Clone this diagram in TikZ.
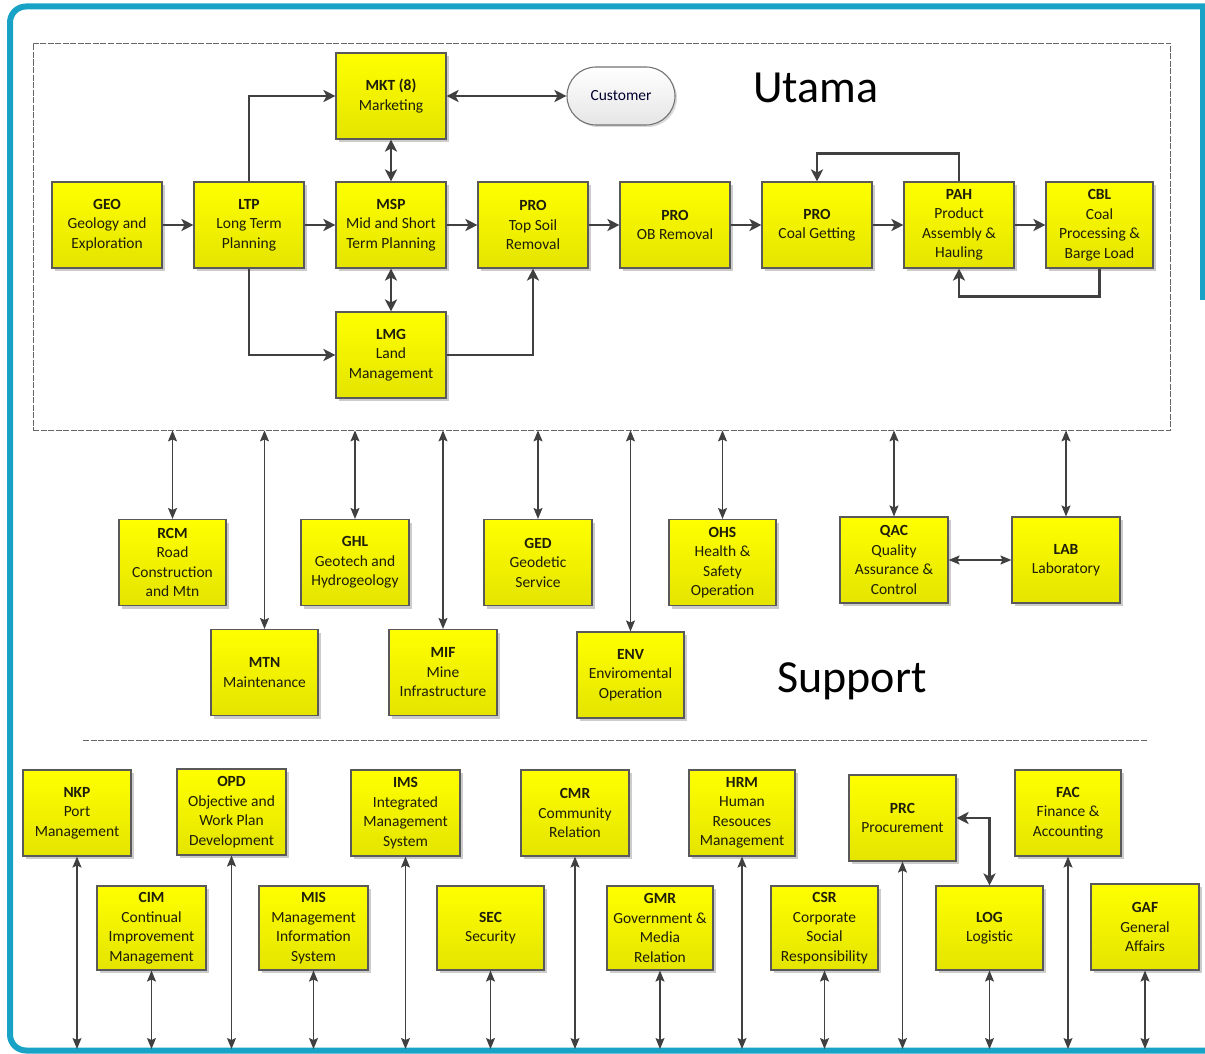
\documentclass[tikz,border=0pt]{standalone}
\usepackage{fontspec}
\setmainfont{Carlito}
\usetikzlibrary{arrows.meta,shadows,calc}
\definecolor{teal1}{RGB}{23,162,198}
\definecolor{arrcol}{RGB}{64,64,64}
\definecolor{ybot}{RGB}{228,228,0}
\definecolor{txt}{RGB}{30,30,10}
\tikzset{
  bx/.style={draw=black!65, line width=1.1pt, top color=yellow, bottom color=ybot,
    drop shadow={shadow xshift=3pt, shadow yshift=-3pt, fill=black!20, opacity=1},
    align=center, font=\fontsize{15.5}{19.5}\selectfont, inner sep=0pt,
    minimum width=108, minimum height=86, text=txt},
  arr/.style={draw=arrcol, line width=2.2pt, -{Stealth[length=12pt,width=12pt,inset=3pt]}},
  arrd/.style={draw=arrcol, line width=2.2pt, {Stealth[length=12pt,width=12pt,inset=3pt]}-{Stealth[length=12pt,width=12pt,inset=3pt]}},
  arrs/.style={draw=arrcol, line width=1.2pt, {Stealth[length=11pt,width=9pt,inset=2pt]}-{Stealth[length=11pt,width=9pt,inset=2pt]}},
  sep/.style={draw=black!60, line width=0.8pt, dash pattern=on 6pt off 1.5pt},
}
\begin{document}
\begin{tikzpicture}[x=1pt,y=-1pt]
\useasboundingbox (0,0) rectangle (1205,1054);
% frame
\draw[teal1, line width=6pt] (1203,300) -- (1203,6.5);
\draw[teal1, line width=6pt, rounded corners=16pt] (1205,6.5) -- (10,6.5) -- (10,1050.5) -- (1210,1050.5);
% Utama dashed box
\node[sep, minimum width=1137, minimum height=387, inner sep=0pt] (ubox) at (601.5,236.5) {};
\draw[sep] (83,740) -- (1148,740);
\coordinate (bot) at (0,1049);

\node[font=\fontsize{46}{50}\selectfont, anchor=base west, inner sep=0pt] (utama) at (753,103) {Utama};
\node[font=\fontsize{46}{50}\selectfont, anchor=base west, inner sep=0pt] (support) at (777,692) {Support};

% Utama nodes
\node[bx, minimum width=110] (geo) at (107,225) {\textbf{GEO}\\Geology and\\Exploration};
\node[bx, minimum width=110] (ltp) at (249,225) {\textbf{LTP}\\Long Term\\Planning};
\node[bx, minimum width=110] (msp) at (391,225) {\textbf{MSP}\\Mid and Short\\Term Planning};
\node[bx, minimum width=110] (pro1) at (533,225) {\textbf{PRO}\\Top Soil\\Removal};
\node[bx, minimum width=110] (pro2) at (675,225) {\textbf{PRO}\\OB Removal};
\node[bx, minimum width=110] (pro3) at (817,225) {\textbf{PRO}\\Coal Getting};
\node[bx, minimum width=110] (pah) at (959,225) {\textbf{PAH}\\Product\\Assembly \&\\Hauling};
\node[bx, minimum width=107] (cbl) at (1099.5,225) {\textbf{CBL}\\Coal\\Processing \&\\Barge Load};
\node[bx, minimum width=110] (mkt) at (391,96) {\textbf{MKT (8)}\\Marketing};
\node[bx, minimum width=110] (lmg) at (391,355) {\textbf{LMG}\\Land\\Management};
\node[draw=black!55, line width=1.1pt, rounded corners=29pt, top color=white, bottom color=black!10,
  drop shadow={shadow xshift=2pt, shadow yshift=-2pt, fill=black!15, opacity=1},
  minimum width=108, minimum height=58, inner sep=0pt, text=black!75!blue!70!black,
  font=\fontsize{15.5}{19.5}\selectfont] (cust) at (621,96) {Customer};

\draw[arr] (geo) -- (ltp);
\draw[arr] (ltp) -- (msp);
\draw[arr] (msp) -- (pro1);
\draw[arr] (pro1) -- (pro2);
\draw[arr] (pro2) -- (pro3);
\draw[arr] (pro3) -- (pah);
\draw[arr] (pah) -- (cbl);
\draw[arr] (ltp.north) |- (mkt.west);
\draw[arr] (ltp.south) |- (lmg.west);
\draw[arr] (lmg.east) -| (pro1.south);
\draw[arrd] (msp) -- (mkt);
\draw[arrd] (msp) -- (lmg);
\draw[arrd] (mkt) -- (cust);
\draw[arr] (pah.north) -- ++(0,-28) -| (pro3.north);
\draw[arr] (cbl.south) -- ++(0,28) -| (pah.south);

% Support row nodes
\node[bx, minimum width=107] (rcm) at (172.5,562.5) {\textbf{RCM}\\Road\\Construction\\and Mtn};
\node[bx] (ghl) at (355,562.5) {\textbf{GHL}\\Geotech and\\Hydrogeology};
\node[bx] (ged) at (538,562.5) {\textbf{GED}\\Geodetic\\Service};
\node[bx, minimum width=107] (ohs) at (722.5,562.5) {\textbf{OHS}\\Health \&\\Safety\\Operation};
\node[bx] (qac) at (894,560) {\textbf{QAC}\\Quality\\Assurance \&\\Control};
\node[bx] (lab) at (1066,560) {\textbf{LAB}\\Laboratory};
\node[bx, minimum width=107] (mtn) at (264.5,672.5) {\textbf{MTN}\\Maintenance};
\node[bx] (mif) at (443,672.5) {\textbf{MIF}\\Mine\\Infrastructure};
\node[bx, minimum width=107] (env) at (630.5,675) {\textbf{ENV}\\Enviromental\\Operation};

\foreach \n in {rcm,ghl,ged,ohs,qac,lab,mtn,mif,env}
  \draw[arrs] (\n.north |- ubox.south) -- (\n.north);
\draw[arrs] (qac) -- (lab);

% Bottom nodes
\node[bx] (nkp) at (77,813) {\textbf{NKP}\\Port\\Management};
\node[bx, minimum width=109] (opd) at (231.5,812) {\textbf{OPD}\\Objective and\\Work Plan\\Development};
\node[bx, minimum width=109] (ims) at (405.5,813) {\textbf{IMS}\\Integrated\\Management\\System};
\node[bx] (cmr) at (575,813) {\textbf{CMR}\\Community\\Relation};
\node[bx, minimum width=106] (hrm) at (742,813) {\textbf{HRM}\\Human\\Resouces\\Management};
\node[bx, minimum width=107] (prc) at (902.5,818) {\textbf{PRC}\\Procurement};
\node[bx, minimum width=106] (fac) at (1068,813) {\textbf{FAC}\\Finance \&\\Accounting};
\node[bx, minimum width=109, minimum height=84] (cim) at (151.5,928) {\textbf{CIM}\\Continual\\Improvement\\Management};
\node[bx, minimum width=109, minimum height=84] (mis) at (313.5,928) {\textbf{MIS}\\Management\\Information\\System};
\node[bx, minimum width=107, minimum height=84] (sec) at (490.5,928) {\textbf{SEC}\\Security};
\node[bx, minimum width=106, minimum height=84] (gmr) at (660,928) {\textbf{GMR}\\Government \&\\Media\\Relation};
\node[bx, minimum width=107, minimum height=84] (csr) at (824.5,928) {\textbf{CSR}\\Corporate\\Social\\Responsibility};
\node[bx, minimum width=107, minimum height=84] (log) at (989.5,928) {\textbf{LOG}\\Logistic};
\node[bx, minimum width=108] (gaf) at (1145,927) {\textbf{GAF}\\General\\Affairs};

\foreach \n in {nkp,opd,ims,cmr,hrm,prc,fac,cim,mis,sec,gmr,csr,log,gaf}
  \draw[arrs] (\n.south) -- (\n.south |- bot);
\draw[arrd] (prc.east) -| (log.north);
\end{tikzpicture}
\end{document}
